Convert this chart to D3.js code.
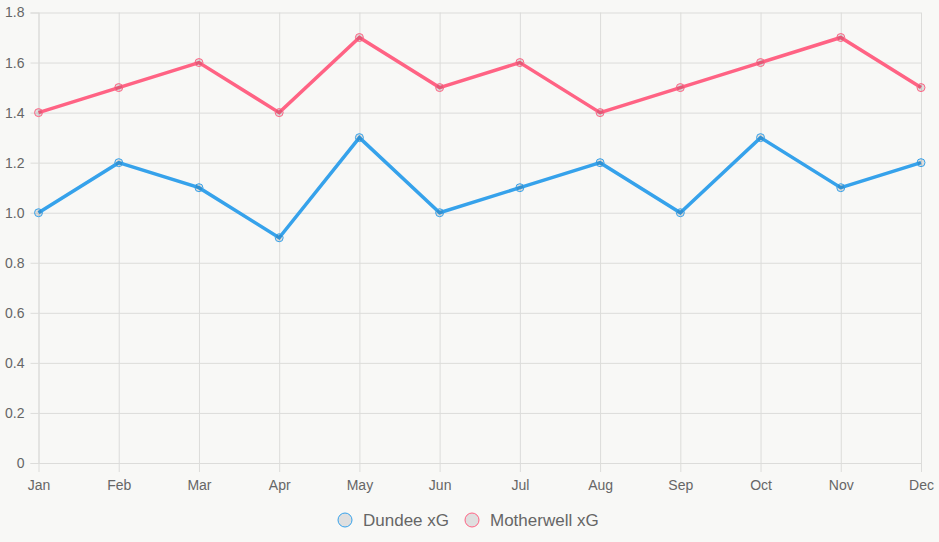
<!DOCTYPE html>
<html>
<head>
<meta charset="utf-8">
<script src="https://cdn.jsdelivr.net/npm/d3@7"></script>
<style>
  html, body { margin: 0; padding: 0; background: #f8f8f6; }
  svg { display: block; font-family: "Liberation Sans", Arial, sans-serif; }
</style>
</head>
<body>
<svg id="chart"></svg>
<script>
const months = ["Jan", "Feb", "Mar", "Apr", "May", "Jun", "Jul", "Aug", "Sep", "Oct", "Nov", "Dec"];
const dundee = [1.0, 1.2, 1.1, 0.9, 1.3, 1.0, 1.1, 1.2, 1.0, 1.3, 1.1, 1.2];
const motherwell = [1.4, 1.5, 1.6, 1.4, 1.7, 1.5, 1.6, 1.4, 1.5, 1.6, 1.7, 1.5];
const yTicks = [0, 0.2, 0.4, 0.6, 0.8, 1.0, 1.2, 1.4, 1.6, 1.8];

const series = [
  { name: "Dundee xG", values: dundee, color: "#36a2eb" },
  { name: "Motherwell xG", values: motherwell, color: "#ff6384" },
];

const width = 939, height = 542;
const margin = { top: 12.5, right: 18, bottom: 79, left: 38.5 };
const gridColor = "#dcdcda";

const svg = d3.select("#chart").attr("width", width).attr("height", height);

const x = d3.scalePoint().domain(months).range([margin.left, width - margin.right]);
const y = d3.scaleLinear().domain([0, 1.8]).range([height - margin.bottom, margin.top]);

// horizontal grid + y ticks
const yAxis = svg.append("g")
  .attr("transform", `translate(${margin.left} 0)`)
  .call(d3.axisLeft(y)
    .tickValues(yTicks)
    .tickSize(8)
    .tickPadding(6)
    .tickFormat((d) => d === 0 ? "0" : d3.format(".1f")(d)))
  .attr("font-family", null)
  .attr("font-size", 14);
yAxis.select(".domain").attr("stroke", gridColor);
yAxis.selectAll(".tick line").attr("stroke", gridColor);
yAxis.selectAll(".tick").append("line")
  .attr("x1", 0).attr("x2", width - margin.right - margin.left)
  .attr("stroke", gridColor);
yAxis.selectAll("text").attr("fill", "#666");

// vertical grid + x ticks
const xAxis = svg.append("g")
  .attr("transform", `translate(0 ${height - margin.bottom})`)
  .call(d3.axisBottom(x).tickSize(9).tickPadding(8).tickSizeOuter(0))
  .attr("font-family", null)
  .attr("font-size", 14);
xAxis.select(".domain").attr("stroke", gridColor);
xAxis.selectAll(".tick line").attr("stroke", gridColor);
xAxis.selectAll(".tick").append("line")
  .attr("y1", 0).attr("y2", -(height - margin.bottom - margin.top))
  .attr("stroke", gridColor);
xAxis.selectAll("text").attr("fill", "#666");

// lines
const line = d3.line()
  .x((d, i) => x(months[i]))
  .y((d) => y(d));

series.forEach((s) => {
  svg.append("path")
    .datum(s.values)
    .attr("fill", "none")
    .attr("stroke", s.color)
    .attr("stroke-width", 3.5)
    .attr("stroke-linejoin", "miter")
    .attr("d", line);

  svg.append("g")
    .selectAll("circle")
    .data(s.values)
    .join("circle")
    .attr("cx", (d, i) => x(months[i]))
    .attr("cy", (d) => y(d))
    .attr("r", 4)
    .attr("fill", "rgba(0,0,0,0.1)")
    .attr("stroke", s.color)
    .attr("stroke-width", 1);
});

// legend
const legend = svg.append("g").attr("transform", "translate(0 520)");
const legendX = [345, 472];
series.forEach((s, i) => {
  legend.append("circle")
    .attr("cx", legendX[i]).attr("cy", 0).attr("r", 7)
    .attr("fill", "#dfdfdf")
    .attr("stroke", s.color)
    .attr("stroke-width", 1);
  legend.append("text")
    .attr("x", legendX[i] + 18).attr("y", 0)
    .attr("dy", "0.35em")
    .attr("fill", "#666")
    .attr("font-size", 17)
    .text(s.name);
});
</script>
</body>
</html>
